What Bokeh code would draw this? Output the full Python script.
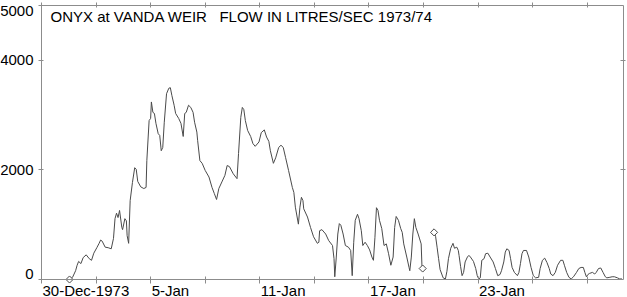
import numpy as np
import pandas as pd
from bokeh.plotting import figure
from bokeh.models import (Range1d, LinearAxis, FixedTicker, Label, CustomJSTickFormatter)
from bokeh.embed import file_html
from bokeh.resources import INLINE

# ---------------- data ----------------
start_date = "1973-12-30"
end_date = "1974-01-31"
title_text = "ONYX at VANDA WEIR\u00a0\u00a0 FLOW IN LITRES/SEC 1973/74"

# hours after 30-Dec-1973 00:00, flow in litres/sec (first record segment)
seg1_hours = [37, 41, 45, 47, 49, 52, 55, 59, 63, 66, 69, 73, 76, 78, 80, 84, 88, 92, 95, 97,
              99, 101, 103, 106, 107, 110, 112, 113, 115, 117, 120, 123, 125, 127, 131, 135, 138, 139, 142, 144,
              145, 147, 149, 151, 154, 156, 158, 160, 162, 165, 168, 170, 172, 175, 177, 181, 184, 187, 189, 191,
              194, 197, 200, 202, 205, 206, 209, 212, 216, 221, 225, 228, 231, 234, 238, 242, 245, 248, 253, 258,
              260, 263, 265, 267, 269, 272, 276, 279, 282, 287, 290, 294, 297, 300, 302, 306, 309, 313, 316, 319,
              322, 326, 331, 333, 335, 339, 341, 343, 345, 346, 351, 355, 359, 364, 366, 367, 370, 375, 379, 384,
              386, 387, 389, 391, 393, 395, 398, 401, 405, 408, 410, 412, 414, 417, 419, 422, 424, 427, 430, 433,
              436, 438, 440, 442, 444, 446, 449, 452, 455, 458, 461, 464, 466, 468, 471, 474, 476, 478, 482, 485,
              486, 488, 490, 492, 494, 497, 499, 501, 502, 503]
seg1_flow = [0, 40, 160, 260, 330, 290, 400, 450, 380, 350, 480, 580, 660, 720, 700, 590, 580, 560, 750, 1110,
             1210, 1130, 1260, 950, 910, 1110, 1070, 800, 660, 1440, 1770, 2040, 2010, 1790, 1690, 1660, 1680, 2170, 2900, 2940,
             3240, 3050, 3030, 2850, 2660, 2630, 2350, 2410, 2870, 3390, 3490, 3500, 3360, 3180, 3030, 2940, 2850, 2610, 3030, 3050,
             3180, 3140, 3050, 2870, 2690, 2540, 2170, 2120, 1990, 1870, 1680, 1570, 1460, 1660, 1780, 1900, 2080, 2060, 1930, 1840,
             2300, 2960, 3140, 3100, 2900, 2720, 2610, 2480, 2430, 2510, 2680, 2730, 2600, 2520, 2350, 2120, 2220, 2410, 2450, 2410,
             2230, 1990, 1680, 1590, 1320, 1010, 1320, 1500, 1440, 1290, 1140, 950, 780, 660, 680, 890, 910, 830, 710, 620,
             380, 50, 410, 830, 1020, 990, 830, 620, 590, 530, 70, 680, 1080, 1190, 1110, 890, 620, 680, 620, 540,
             410, 350, 770, 1310, 1260, 1080, 930, 620, 650, 470, 260, 410, 950, 1150, 1080, 930, 860, 650, 410, 220,
             160, 410, 830, 1110, 950, 830, 740, 650, 260, 200]

# second record segment (after the gap)
seg2_hours = [518, 520, 522, 524, 526, 530, 533, 535, 537, 540, 543, 545, 548, 550, 551, 553, 555, 557, 559, 562,
              564, 566, 570, 573, 575, 577, 579, 581, 584, 586, 589, 592, 596, 599, 602, 605, 607, 610, 612, 614,
              617, 619, 621, 624, 628, 630, 632, 634, 636, 640, 643, 646, 649, 652, 656, 658, 661, 664, 667, 670,
              672, 675, 678, 681, 685, 688, 690, 693, 696, 699, 702, 706, 709, 712, 715, 717, 719, 721, 723, 727,
              730, 732, 735, 738, 741, 744, 746, 750, 753, 756, 760, 763, 766]
seg2_flow = [860, 790, 590, 380, 180, 30, 10, 150, 380, 570, 660, 570, 590, 530, 440, 240, 70, 130, 320, 410,
             440, 410, 330, 200, 70, 10, 30, 350, 380, 470, 480, 410, 320, 200, 70, 90, 160, 320, 500, 560,
             530, 380, 220, 130, 70, 130, 290, 470, 530, 530, 410, 220, 70, 30, 40, 200, 350, 390, 310, 200,
             100, 70, 130, 260, 350, 350, 260, 130, 40, 10, 50, 130, 200, 220, 220, 130, 50, 90, 110, 130,
             100, 130, 200, 210, 130, 50, 30, 40, 50, 50, 30, 10, 10]

y_tick_values = [0, 2000, 4000, 5000]
y_tick_labels = ["0", "2000", "4000", "5000"]
x_tick_dates = ["1973-12-30", "1974-01-02", "1974-01-05", "1974-01-08", "1974-01-11", "1974-01-14",
                "1974-01-17", "1974-01-20", "1974-01-23", "1974-01-26", "1974-01-29"]
x_label_dates = ["1973-12-30", "1974-01-05", "1974-01-11", "1974-01-17", "1974-01-23"]
x_label_texts = ["30-Dec-1973", "5-Jan", "11-Jan", "17-Jan", "23-Jan"]

# ---------------- helpers ----------------
EPOCH = pd.Timestamp("1970-01-01")
HOUR_MS = 3600 * 1000.0


def ms(d):
    return (pd.Timestamp(d) - EPOCH) / pd.Timedelta(milliseconds=1)


t0 = ms(start_date)
t1 = ms(end_date)

x_line = [t0 + h * HOUR_MS for h in seg1_hours] + [np.nan] + [t0 + h * HOUR_MS for h in seg2_hours]
y_line = list(seg1_flow) + [np.nan] + list(seg2_flow)

mark_x = [t0 + seg1_hours[0] * HOUR_MS, t0 + seg1_hours[-1] * HOUR_MS, t0 + seg2_hours[0] * HOUR_MS]
mark_y = [seg1_flow[0], seg1_flow[-1], seg2_flow[0]]

y_lo, y_hi = min(y_tick_values), max(y_tick_values)

# ---------------- layout (pixels) ----------------
W, H = 627, 297
PAD_L, PAD_R, PAD_T, PAD_B = 41, 4, 5, 18      # room around the plotting box
box_w = W - PAD_L - PAD_R
box_h = H - PAD_T - PAD_B
xs = (t1 - t0) / box_w
ys = (y_hi - y_lo) / box_h
x_range = Range1d(t0 - PAD_L * xs, t1 + PAD_R * xs)
y_range = Range1d(y_lo - PAD_B * ys, y_hi + PAD_T * ys)

FONT = "Liberation Sans"
FSIZE = "15px"
GRAY = "#8c8c8c"
LINE = "#4a4a4a"

p = figure(width=W, height=H, output_backend="svg", toolbar_location=None,
           x_axis_type=None, y_axis_type=None, x_range=x_range, y_range=y_range,
           min_border=0)
p.outline_line_color = None
p.background_fill_color = "white"
p.border_fill_color = "white"


def make_axis(ticks, tin, tout, loc, bounds):
    ax = LinearAxis(ticker=FixedTicker(ticks=ticks), fixed_location=loc, bounds=bounds,
                    formatter=CustomJSTickFormatter(code="return ''"))
    ax.axis_line_color = GRAY
    ax.axis_line_width = 1
    ax.major_tick_line_color = GRAY
    ax.major_tick_in = tin
    ax.major_tick_out = tout
    ax.minor_tick_line_color = None
    ax.minor_tick_in = 0
    ax.minor_tick_out = 0
    ax.major_label_standoff = 0
    ax.major_label_text_font_size = "0px"
    ax.axis_label_standoff = 0
    return ax


xt = [ms(d) for d in x_tick_dates]
p.add_layout(make_axis(xt, 3, 4, y_lo, (t0, t1)), "below")
p.add_layout(make_axis(xt, 2, 3, y_hi, (t0, t1)), "above")
p.add_layout(make_axis(y_tick_values, 2, 3, t0, (y_lo, y_hi)), "left")
p.add_layout(make_axis([v for v in y_tick_values if v not in (y_lo, y_hi)], 3, 2, t1, (y_lo, y_hi)), "right")

p.line(x_line, y_line, line_color=LINE, line_width=1)
p.scatter(mark_x, mark_y, marker="square", angle=np.pi / 4, size=5,
          fill_color="white", line_color=LINE, line_width=1)

# x tick labels, left-aligned at their ticks
for d, txt in zip(x_label_dates, x_label_texts):
    p.add_layout(Label(x=ms(d), y=y_lo, text=txt, text_align="left", text_baseline="top",
                       x_offset=1, y_offset=-2, text_font=FONT, text_font_size=FSIZE,
                       text_color="black"))

# y tick labels, kept inside the box height at the ends
for v, txt in zip(y_tick_values, y_tick_labels):
    off = 6 if v == y_lo else (-5 if v == y_hi else 0)
    p.add_layout(Label(x=t0, y=v, text=txt, text_align="right", text_baseline="middle",
                       x_offset=-8, y_offset=off, text_font=FONT, text_font_size=FSIZE,
                       text_color="black"))

p.add_layout(Label(x=t0, y=y_hi, text=title_text, x_offset=9, y_offset=-2, text_align="left",
                   text_baseline="top", text_font=FONT, text_font_size=FSIZE, text_color="black"))

open("out.html", "w").write(file_html(p, INLINE))
